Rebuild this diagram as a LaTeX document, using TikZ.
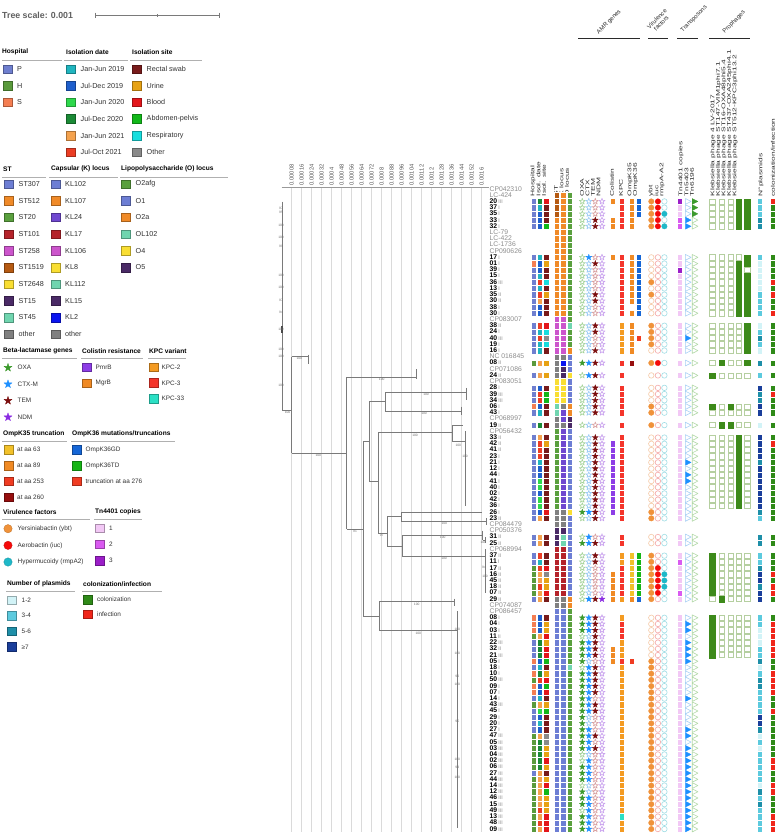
\documentclass[tikz,border=0pt]{standalone}
\usepackage{fontspec}
\setmainfont{Liberation Sans}
% hospital / date / site
\definecolor{hP}{HTML}{6F7FCF}\definecolor{hH}{HTML}{5A9A3C}\definecolor{hS}{HTML}{F47E52}
\definecolor{da}{HTML}{20B5BF}\definecolor{db}{HTML}{1F5FCC}\definecolor{dc}{HTML}{2ED84C}
\definecolor{dd}{HTML}{1B8A36}\definecolor{de}{HTML}{F4A24E}\definecolor{df}{HTML}{EB3D24}
\definecolor{sr}{HTML}{781B1B}\definecolor{su}{HTML}{E7A214}\definecolor{sb}{HTML}{E3161B}
\definecolor{sa}{HTML}{12B81A}\definecolor{ss}{HTML}{17DEDE}\definecolor{so}{HTML}{8A8A8A}
% ST / K / O
\definecolor{t1}{HTML}{6D7ED4}\definecolor{t2}{HTML}{F08A28}\definecolor{t3}{HTML}{5AA03E}
\definecolor{t4}{HTML}{B5232A}\definecolor{t5}{HTML}{CC55CC}\definecolor{t6}{HTML}{B55A12}
\definecolor{t7}{HTML}{F9DE33}\definecolor{t8}{HTML}{4A2A66}\definecolor{t9}{HTML}{70D5AF}
\definecolor{to}{HTML}{808080}
\definecolor{k1}{HTML}{6D7ED4}\definecolor{k2}{HTML}{F08A28}\definecolor{k3}{HTML}{7048D0}
\definecolor{k4}{HTML}{B5232A}\definecolor{k5}{HTML}{CC55CC}\definecolor{k6}{HTML}{F9DE33}
\definecolor{k7}{HTML}{70D5AF}\definecolor{k8}{HTML}{4A2A66}\definecolor{k9}{HTML}{0A14F0}
\definecolor{ko}{HTML}{808080}
\definecolor{o1}{HTML}{5AA03E}\definecolor{o2}{HTML}{6D7ED4}\definecolor{o3}{HTML}{F08A28}
\definecolor{o4}{HTML}{70D5AF}\definecolor{o5}{HTML}{F9DE33}\definecolor{o6}{HTML}{4A2A66}
% stars
\definecolor{sOXA}{HTML}{3C9A2C}\definecolor{sOXAL}{HTML}{A6D49A}
\definecolor{sCTX}{HTML}{1E90FF}\definecolor{sCTXL}{HTML}{9CCBF5}
\definecolor{sTEM}{HTML}{7B0E0E}\definecolor{sTEML}{HTML}{D9A0A0}
\definecolor{sNDM}{HTML}{8A2BE2}\definecolor{sNDML}{HTML}{C9A2EE}
% colistin, KPC, OmpK35, OmpK36
\definecolor{cp}{HTML}{8D3DE6}\definecolor{cm}{HTML}{F08A24}
\definecolor{q2}{HTML}{F49B22}\definecolor{q3}{HTML}{F4352B}\definecolor{qx}{HTML}{2BE0C5}
\definecolor{fa}{HTML}{F2C12A}\definecolor{fb}{HTML}{F08A24}\definecolor{fc}{HTML}{F03C22}\definecolor{fd}{HTML}{960E0E}
\definecolor{gg}{HTML}{1566D6}\definecolor{gt}{HTML}{16B516}\definecolor{gr}{HTML}{F03C22}
% virulence
\definecolor{vY}{HTML}{F0923A}\definecolor{vYL}{HTML}{F5C9A6}
\definecolor{vI}{HTML}{F50A0A}\definecolor{vIL}{HTML}{F5A8A8}
\definecolor{vR}{HTML}{1EB8C8}\definecolor{vRL}{HTML}{A0DDE5}
% transposons
\definecolor{n1}{HTML}{F2C8F5}\definecolor{n2}{HTML}{D95AF0}\definecolor{n3}{HTML}{9B1EC8}
\definecolor{tnA}{HTML}{1E90FF}\definecolor{tnAL}{HTML}{A8D0F5}
\definecolor{tnB}{HTML}{3C9A2C}\definecolor{tnBL}{HTML}{B3D9A8}
% phages, plasmids, col/inf
\definecolor{ph}{HTML}{3D8A1A}\definecolor{phL}{HTML}{B5CFA0}
\definecolor{p1}{HTML}{D2F3F7}\definecolor{p2}{HTML}{5CCADE}\definecolor{p3}{HTML}{1E8FA8}\definecolor{p4}{HTML}{1A3E9A}
\definecolor{ic}{HTML}{2F8A18}\definecolor{ii}{HTML}{F0261A}
% greys
\definecolor{labg}{HTML}{8C8C8C}\definecolor{legg}{HTML}{333333}\definecolor{hdrg}{HTML}{2A2A2A}
\definecolor{sclg}{HTML}{555555}\definecolor{ulg}{HTML}{B0B0B0}\definecolor{treeg}{HTML}{7A7A7A}
\definecolor{bsg}{HTML}{707070}\definecolor{gridg}{HTML}{DADADA}\definecolor{titg}{HTML}{606060}

\newcount\myrc
\def\drawcol#1#2#3#4{\def\mycx{#1}\def\myckind{#2}\def\mycpre{#3}\myrc=0\relax\mycolloop#4\relax}
\def\mycolloop#1{\ifx\relax#1\let\mynxt\relax\else\def\mycc{#1}\let\mynxt\mycolstep\fi\mynxt}
\def\mycolstep{\advance\myrc by 1\relax
  \if.\mycc\else
    \pgfmathsetmacro\mycy{189+(\the\myrc-1)*6.214}%
    \csname mycell@\myckind\endcsname
  \fi\mycolloop}
\def\mycw{2.7}
\expandafter\def\csname mycell@strip\endcsname{\edef\myccol{\mycpre\mycc}%
  \fill[fill=\myccol,draw=white,line width=0.35] (\mycx-\mycw,\mycy-3.107) rectangle (\mycx+\mycw,\mycy+3.107);}
\def\mysetbin{\if1\mycc\edef\myfcol{\mycpre}\edef\mydcol{\mycpre}\def\mylw{0.3}\else
  \def\myfcol{white}\edef\mydcol{\mycpre L}\def\mylw{0.6}\fi}
\expandafter\def\csname mycell@star\endcsname{\mysetbin
  \filldraw[fill=\myfcol,draw=\mydcol,line width=\mylw,line join=round,shift={(\mycx,\mycy)}]
   (0,-3.2)--(-.72,-1.0)--(-3.04,-.99)--(-1.17,.38)--(-1.88,2.59)--(0,1.23)--(1.88,2.59)--(1.17,.38)--(3.04,-.99)--(.72,-1.0)--cycle;}
\expandafter\def\csname mycell@circ\endcsname{\mysetbin
  \filldraw[fill=\myfcol,draw=\mydcol,line width=\mylw] (\mycx,\mycy) circle[radius=2.75];}
\expandafter\def\csname mycell@tri\endcsname{\mysetbin
  \filldraw[fill=\myfcol,draw=\mydcol,line width=\mylw,line join=round] (\mycx-2.6,\mycy-2.9) -- (\mycx+3.1,\mycy) -- (\mycx-2.6,\mycy+2.9) -- cycle;}
\expandafter\def\csname mycell@phg\endcsname{\mysetbin
  \filldraw[fill=\myfcol,draw=\mydcol,line width=\mylw] (\mycx-2.8,\mycy-2.6) rectangle (\mycx+2.8,\mycy+2.6);}
\def\legsq#1#2#3{\filldraw[fill=#3,draw=#3!70!black,line width=0.4] (#1-4.3,#2-4.3) rectangle (#1+4.3,#2+4.3);}
\def\legstar#1#2#3{\filldraw[fill=#3,draw=#3,line width=0.3,line join=round,shift={(#1,#2)},scale=1.35]
   (0,-3.2)--(-.72,-1.0)--(-3.04,-.99)--(-1.17,.38)--(-1.88,2.59)--(0,1.23)--(1.88,2.59)--(1.17,.38)--(3.04,-.99)--(.72,-1.0)--cycle;}
\def\tmpr{r}
\def\hd#1{\scalebox{1.2}[0.76]{#1}}

\begin{document}
\begin{tikzpicture}[x=1pt,y=-1pt,
  tree/.style={draw=treeg,line width=0.55},
  bs/.style={font=\fontsize{3.3}{3.5}\selectfont,text=bsg,inner sep=0},
  reflab/.style={anchor=west,inner sep=0,font=\fontsize{6.8}{7}\selectfont,text=labg,text height=4.6,text depth=0.6},
  isolab/.style={anchor=west,inner sep=0,font=\fontsize{6.8}{7}\selectfont,text=black,text height=4.6,text depth=0.6},
  hdr/.style={rotate=90,anchor=west,inner sep=0,font=\fontsize{7}{7}\selectfont,text=hdrg},
  sclab/.style={rotate=90,anchor=west,inner sep=0,font=\fontsize{5.8}{6}\selectfont,text=sclg},
  ltitle/.style={anchor=west,inner sep=0,font=\bfseries\fontsize{6.6}{7}\selectfont,text=black},
  ltext/.style={anchor=west,inner sep=0,font=\fontsize{7.2}{8}\selectfont,text=legg},
  ltexts/.style={anchor=west,inner sep=0,font=\fontsize{6.4}{7}\selectfont,text=legg},
  uline/.style={draw=ulg,line width=0.8},
  grphdr/.style={rotate=45,inner sep=0,font=\fontsize{6}{6.2}\selectfont,text=hdrg,align=center},
  grpline/.style={draw=hdrg,line width=1}
]
\useasboundingbox (0,0) rectangle (777,835);
\fill[white] (0,0) rectangle (777,835);

% ---------------- tree scale ----------------
\node[anchor=west,inner sep=0,font=\bfseries\fontsize{8.8}{9}\selectfont,text=titg] (tscale) at (2,15) {Tree scale: 0.001};
\draw[draw=treeg,line width=0.8] (95,15) -- (219,15);
\draw[draw=treeg,line width=0.8] (95,12.5) -- (95,17.5);
\draw[draw=treeg,line width=0.8] (219,12.5) -- (219,17.5);
\draw[draw=treeg,line width=0.6] (157,14) -- (157,16.5);

% ---------------- legends ----------------
\node[ltitle] (tH) at (2,52) {Hospital};
\node[ltitle] (tD) at (66,52) {Isolation date};
\node[ltitle] (tS) at (132,52) {Isolation site};
\draw[uline] (2,60) -- (62,60); \draw[uline] (64,60) -- (128,60); \draw[uline] (130,60) -- (202,60);
\foreach \t/\c [count=\i] in {P/hP,H/hH,S/hS}{
  \pgfmathsetmacro\yy{69+(\i-1)*16.65}\legsq{7.5}{\yy}{\c}\node[ltext] (lH\i) at (17,\yy) {\t};}
\foreach \t/\c [count=\i] in {Jan-Jun 2019/da,Jul-Dec 2019/db,Jan-Jun 2020/dc,Jul-Dec 2020/dd,Jan-Jun 2021/de,Jul-Oct 2021/df}{
  \pgfmathsetmacro\yy{69+(\i-1)*16.65}\legsq{70.5}{\yy}{\c}\node[ltext] (lD\i) at (80.5,\yy) {\t};}
\foreach \t/\c [count=\i] in {Rectal swab/sr,Urine/su,Blood/sb,Abdomen-pelvis/sa,Respiratory/ss,Other/so}{
  \pgfmathsetmacro\yy{69+(\i-1)*16.65}\legsq{136.5}{\yy}{\c}\node[ltext] (lS\i) at (146.5,\yy) {\t};}

\node[ltitle] (tST) at (3,169) {ST};
\node[ltitle] (tK) at (51,169) {Capsular (K) locus};
\node[ltitle] (tO) at (121,169) {Lipopolysaccharide (O) locus};
\draw[uline] (2,177) -- (46,177); \draw[uline] (49,177) -- (118,177); \draw[uline] (120,177) -- (228,177);
\foreach \t/\c [count=\i] in {ST307/t1,ST512/t2,ST20/t3,ST101/t4,ST258/t5,ST1519/t6,ST2648/t7,ST15/t8,ST45/t9,other/to}{
  \pgfmathsetmacro\yy{184+(\i-1)*16.68}\legsq{8.5}{\yy}{\c}\node[ltext] (lST\i) at (18.5,\yy) {\t};}
\foreach \t/\c [count=\i] in {KL102/k1,KL107/k2,KL24/k3,KL17/k4,KL106/k5,KL8/k6,KL112/k7,KL15/k8,KL2/k9,other/ko}{
  \pgfmathsetmacro\yy{184+(\i-1)*16.68}\legsq{55.5}{\yy}{\c}\node[ltext] (lK\i) at (65,\yy) {\t};}
\foreach \t/\c [count=\i] in {O2afg/o1,O1/o2,O2a/o3,OL102/o4,O4/o5,O5/o6}{
  \pgfmathsetmacro\yy{184+(\i-1)*16.68}\legsq{125.5}{\yy}{\c}\node[ltext] (lO\i) at (135.5,\yy) {\t};}

\node[ltitle] (tB) at (3,351) {Beta-lactamase genes};
\node[ltitle] (tC) at (82,351) {Colistin resistance};
\node[ltitle] (tQ) at (149,351) {KPC variant};
\draw[uline] (2,358) -- (77,358); \draw[uline] (81,358) -- (143,358); \draw[uline] (148,358) -- (186,358);
\foreach \t/\c [count=\i] in {OXA/sOXA,CTX-M/sCTX,TEM/sTEM,NDM/sNDM}{
  \pgfmathsetmacro\yy{367.7+(\i-1)*16.5}\legstar{8}{\yy}{\c}\node[ltexts] (lB\i) at (17.5,\yy) {\t};}
\foreach \t/\c [count=\i] in {PmrB/cp,MgrB/cm}{
  \pgfmathsetmacro\yy{367+(\i-1)*16.2}\legsq{86.5}{\yy}{\c}\node[ltexts] (lC\i) at (95.5,\yy) {\t};}
\foreach \t/\c [count=\i] in {KPC-2/q2,KPC-3/q3,KPC-33/qx}{
  \pgfmathsetmacro\yy{367+(\i-1)*15.8}\legsq{153.5}{\yy}{\c}\node[ltexts] (lQ\i) at (161.5,\yy) {\t};}

\node[ltitle] (t35) at (3,434) {OmpK35 truncation};
\node[ltitle] (t36) at (72,434) {OmpK36 mutations/truncations};
\draw[uline] (2,441) -- (67,441); \draw[uline] (71,441) -- (175,441);
\foreach \t/\c [count=\i] in {at aa 63/fa,at aa 89/fb,at aa 253/fc,at aa 260/fd}{
  \pgfmathsetmacro\yy{449.7+(\i-1)*15.8}\legsq{8.5}{\yy}{\c}\node[ltexts] (l35\i) at (17,\yy) {\t};}
\foreach \t/\c [count=\i] in {OmpK36GD/gg,OmpK36TD/gt,truncation at aa 276/gr}{
  \pgfmathsetmacro\yy{449.7+(\i-1)*15.8}\legsq{76.5}{\yy}{\c}\node[ltexts] (l36\i) at (85.5,\yy) {\t};}

\node[ltitle] (tV) at (3,512) {Virulence factors};
\node[ltitle] (tT) at (95,512) {Tn4401 copies};
\draw[uline] (2,519) -- (90,519); \draw[uline] (94,519) -- (142,519);
\foreach \t/\c [count=\i] in {Yersiniabactin (ybt)/vY,Aerobactin (iuc)/vI,Hypermucoidy (rmpA2)/vR}{
  \pgfmathsetmacro\yy{528.7+(\i-1)*16.65}
  \filldraw[fill=\c,draw=\c!80!black,line width=0.3] (8,\yy) circle[radius=4.2];
  \node[ltexts] (lV\i) at (17.5,\yy) {\t};}
\foreach \t/\c [count=\i] in {1/n1,2/n2,3/n3}{
  \pgfmathsetmacro\yy{528+(\i-1)*16.35}\legsq{99.5}{\yy}{\c}\node[ltexts] (lT\i) at (109,\yy) {\t};}

\node[ltitle] (tN) at (7,584) {Number of plasmids};
\node[ltitle] (tI) at (83,584) {colonization/infection};
\draw[uline] (6,591) -- (75,591); \draw[uline] (82,591) -- (162,591);
\foreach \t/\c [count=\i] in {1-2/p1,3-4/p2,5-6/p3,≥7/p4}{
  \pgfmathsetmacro\yy{600+(\i-1)*15.6}\legsq{11.5}{\yy}{\c}\node[ltexts] (lN\i) at (21.5,\yy) {\t};}
\foreach \t/\c [count=\i] in {colonization/ic,infection/ii}{
  \pgfmathsetmacro\yy{599.7+(\i-1)*14.6}\legsq{87.5}{\yy}{\c}\node[ltexts] (lI\i) at (97,\yy) {\t};}

% ---------------- tree grid ----------------
\foreach \k in {1,...,20}{\draw[draw=gridg,line width=0.5] (281.7+10*\k,187) -- (281.7+10*\k,832);}
\draw[draw=gridg!70!black,line width=0.5] (281.7,187) -- (489,187);
\foreach \k/\t in {1/0.00008,2/0.00016,3/0.00024,4/0.00032,5/0.0004,6/0.00048,7/0.00056,8/0.00064,9/0.00072,10/0.0008,11/0.00088,12/0.00096,13/0.00104,14/0.00112,15/0.0012,16/0.00128,17/0.00136,18/0.00144,19/0.00152,20/0.0016}{
  \node[sclab] (sc\k) at (281.7+10*\k,185.5) {\t};}

% ---------------- tree ----------------
\draw[tree] (282,201.7) -- (282,410);
\draw[treeg!60!black,line width=1.1] (282,326) -- (282,333);
\draw[tree] (282,410) -- (291.7,410);
\draw[tree] (291.7,356.7) -- (291.7,453.3);
\draw[tree] (291.7,356.7) -- (308.3,356.7);
\draw[tree] (308.3,354.5) -- (308.3,364);
\draw[tree] (291.7,453.3) -- (346.7,453.3);
\draw[tree] (346.7,377) -- (346.7,529.3);
\draw[tree] (346.7,377) -- (416.7,377);
\draw[tree] (416.7,369.2) -- (416.7,379);
\draw[tree] (346.7,529.3) -- (363.3,529.3);
\draw[tree] (363.3,441.7) -- (363.3,616.7);
\draw[tree] (363.3,441.7) -- (369.3,441.7);
\draw[tree] (369.3,401.7) -- (369.3,481.7);
\draw[tree] (369.3,401.7) -- (385,401.7);
\draw[tree] (385,392.7) -- (385,411.7);
\draw[tree] (385,392.7) -- (466.7,392.7);
\draw[tree] (466.7,387.8) -- (466.7,400.2);
\draw[tree] (385,411.7) -- (461.7,411.7);
\draw[tree] (461.7,406.5) -- (461.7,415);
\draw[tree] (369.3,481.7) -- (378.3,481.7);
\draw[tree] (378.3,432.7) -- (378.3,533.3);
\draw[tree] (378.3,432.7) -- (452.7,432.7);
\draw[tree] (452.7,425.1) -- (452.7,441.7);
\draw[tree] (452.7,425.1) -- (463.3,425.1);
\draw[tree] (452.7,441.7) -- (465.5,441.7);
\draw[tree] (465.5,431.3) -- (465.5,506);
\draw[tree] (378.3,533.3) -- (387.3,533.3);
\draw[tree] (387.3,516) -- (387.3,546.7);
\draw[tree] (387.3,516) -- (401.7,516);
\draw[tree] (401.7,512.1) -- (401.7,521.7);
\draw[tree] (401.7,512.1) -- (481.7,512.1);
\draw[tree] (401.7,521.7) -- (486,521.7);
\draw[tree] (486,518.3) -- (486,524.5);
\draw[tree] (387.3,546.7) -- (402.7,546.7);
\draw[tree] (402.7,535) -- (402.7,556.7);
\draw[tree] (402.7,535) -- (482.7,535);
\draw[tree] (482.7,530.7) -- (482.7,540);
\draw[tree] (482.7,540) -- (485,540);
\draw[tree] (485,536.9) -- (485,543.1);
\draw[tree] (402.7,556.7) -- (485,556.7);
\draw[tree] (485,549.4) -- (485,592.9);
\draw[tree] (363.3,616.7) -- (379.3,616.7);
\draw[tree] (379.3,601.7) -- (379.3,630.7);
\draw[tree] (379.3,601.7) -- (454,601.7);
\draw[tree] (454,598.5) -- (454,606);
\draw[tree] (379.3,630.7) -- (457,630.7);
\draw[tree] (457,611) -- (457,828);
\foreach \yy/\t [count=\i] in {208.3/97,212.7/95,225/100,237.7/100,246.3/99,275/100,287.3/100,300/97,312.3/94,329.3/100,349.3/100,356.7/100,385/100}{
  \node[bs] (bt\i) at (281,\yy) {\t};}
\foreach \xx/\yy/\t [count=\i] in {287.5/412/100,299.3/358.8/100,318.3/455.6/100,381.7/379.3/100,355/531.3/91,426/394.8/100,424/413.8/100,415/435/100,458.3/445/100,465/456.7/100,381.7/535.3/97,444.3/523.8/100,442.7/537.2/100,483.3/542.3/100,444/558.8/100,484/567.3/94,485/576/100,416.7/604/100,418.3/632.9/100,457.3/629/100,457.3/653.3/100,457.3/676/90,457.3/684.3/100,457.3/721.7/95,457.3/759.3/100,457.3/767.7/99,457.3/777.3/100}{
  \node[bs] (bn\i) at (\xx,\yy) {\t};}

% ---------------- leaf labels ----------------
\foreach \a/\b [count=\r] in {CP042310/r,LC-424/r,20/III,37/I,35/I,33/I,32/I,LC-79/r,LC-422/r,LC-1736/r,CP090626/r,17/I,01/I,39/I,15/I,36/III,13/I,35/II,30/II,38/I,30/I,CP083007/r,38/II,24/I,40/III,19/I,16/I,NC 016845/r,08/II,CP071086/r,24/II,CP083051/r,28/I,39/III,34/III,06/I,43/I,CP068997/r,19/II,CP056432/r,33/II,42/II,41/II,23/I,21/I,12/I,44/I,41/I,40/I,02/I,42/I,36/I,26/I,23/II,CP084479/r,CP050376/r,31/II,25/II,CP068994/r,37/II,11/I,17/II,16/II,45/II,18/II,07/II,29/II,CP074087/r,CP086457/r,08/I,04/I,03/I,11/II,22/III,32/II,21/III,05/I,18/I,10/I,50/III,09/I,07/I,14/I,43/III,45/I,29/I,20/I,27/I,47/III,05/III,03/III,04/III,02/III,06/III,27/III,44/III,14/III,12/III,46/III,15/III,49/III,13/III,48/III,09/III}{
  \pgfmathsetmacro\ly{189+(\r-1)*6.214}
  \edef\bb{\b}
  \ifx\bb\tmpr
    \node[reflab] (L\r) at (489.5,\ly) {\a};
  \else
    \node[isolab] (L\r) at (489.5,\ly) {\textbf{\a}\,{\color{labg}\fontsize{5.2}{5}\selectfont\b}};
  \fi}

% ---------------- column headers ----------------
\node[hdr] (h1) at (533,196.5) {\hd{Hospital}};
\node[hdr] (h2) at (538.5,196.5) {\hd{Isol. date}};
\node[hdr] (h3) at (544,196.5) {\hd{Isol. site}};
\node[hdr] (h4) at (556,196.5) {\hd{ST}};
\node[hdr] (h5) at (561.5,196.5) {\hd{K locus}};
\node[hdr] (h6) at (567,196.5) {\hd{O locus}};
\node[hdr] (h7) at (582,196.5) {\hd{OXA}};
\node[hdr] (h8) at (587.5,196.5) {\hd{CTX}};
\node[hdr] (h9) at (593,196.5) {\hd{TEM}};
\node[hdr] (h10) at (598.5,196.5) {\hd{NDM}};
\node[hdr] (h11) at (612,196.5) {\hd{Colistin}};
\node[hdr] (h12) at (621,196.5) {\hd{KPC}};
\node[hdr] (h13) at (630,196.5) {\hd{OmpK35}};
\node[hdr] (h14) at (635.5,196.5) {\hd{OmpK36}};
\node[hdr] (h15) at (651,196.5) {\hd{ybt}};
\node[hdr] (h16) at (656.5,196.5) {\hd{iuc}};
\node[hdr] (h17) at (662,196.5) {\hd{rmpA-A2}};
\node[hdr] (h18) at (681,196.5) {\hd{Tn4401 copies}};
\node[hdr] (h19) at (686.5,196.5) {\hd{Tn5403}};
\node[hdr] (h20) at (692,196.5) {\hd{Tn6196}};
\node[hdr] (h21) at (713,196.5) {\hd{Klebsiella phage 4 LV-2017}};
\node[hdr] (h22) at (718.5,196.5) {\hd{Klebsiella phage ST147-VIM1phi7.1}};
\node[hdr] (h23) at (724,196.5) {\hd{Klebsiella phage ST16-OXA48phi5.4}};
\node[hdr] (h24) at (729.5,196.5) {\hd{Klebsiella phage ST437-OXA245phi4.1}};
\node[hdr] (h25) at (735,196.5) {\hd{Klebsiella phage ST512-KPC3phi13.2}};
\node[hdr] (h26) at (761,196.5) {\hd{N°plasmids}};
\node[hdr] (h27) at (773,196.5) {\hd{colonization/infection}};

\node[grphdr] (gA) at (609,22) {AMR genes};
\node[grphdr] (gV) at (659,21) {Virulence\\factors};
\node[grphdr] (gT) at (694,19) {Transposons};
\node[grphdr] (gP) at (734,22) {Prophages};
\draw[grpline] (578,38) -- (640,38);
\draw[grpline] (648,38) -- (668,38);
\draw[grpline] (677,38) -- (698,38);
\draw[grpline] (709,38) -- (750,38);

% ---------------- data columns ----------------
\def\mycw{2.7}
\drawcol{533.5}{strip}{h}{.. PPPPP .... PSPPPPPPPP . PPPPP . H . P . PPPSP . P . PPPPPPPPPPPPPP .. PP . PPHHHHHP .. SSSHP PPSPS HSSPH PPPPH HHHHH PHHHH HHHHH}
\drawcol{539.8}{strip}{d}{.. dabbb .... abbafafebb . fafaa . e . e . bffba . d . efffabbccbccbe .. ee . fafeefee .. bbbed ddbad fbbae cbabe ddddd eeeee efefe}
\drawcol{546.3}{strip}{s}{.. brrra .... rurrsrurrr . bsosr . u . u . raarr . r . rurrrrrrrrrrbr .. rr . rrbouubr .. ruubu bbaru babru arrro ouubu rubau uubbb}
\drawcol{556.8}{strip}{t}{.6 66622 2222 2222222222 5 55555 o o o o 7 77799 o o 3 333333333333oo o8 88 4 4444444o o1 11111 11111 11111 11111 11111 11111 11111}
\drawcol{563.3}{strip}{k}{.2 22222 2222 2222222222 5 55555 o 9 8 8 6 666o3 3 o 3 333333333333oo o8 77 4 4444444o o1 11111 11111 11111 11111 11111 11111 11111}
\drawcol{569.8}{strip}{o}{.1 11111 1111 1111111111 1 41113 2 2 2 5 2 22233 6 6 2 22222222222252 22 22 2 22222223 31 11111 11141 11111 11111 11111 11111 11111}

\drawcol{582.3}{star}{sOXA}{.. 00000 .... 0000000000 . 00000 . 1 . 0 . 00000 . 0 . 00000000000010 .. 01 . 00000000 .. 11101 11101 11111 11111 11001 11011 10111}
\drawcol{588.8}{star}{sCTX}{.. 00000 .... 1000000000 . 00000 . 1 . 1 . 00000 . 0 . 00000000000010 .. 11 . 00000001 .. 11101 11011 11111 10011 11011 11001 11111}
\drawcol{595.3}{star}{sTEM}{.. 00011 .... 0100001100 . 11001 . 1 . 1 . 11111 . 0 . 11111111111111 .. 01 . 11000001 .. 11111 11011 11101 10001 01000 00000 00000}
\drawcol{602.0}{star}{sNDM}{.. 00000 .... 0000000000 . 00000 . 0 . 0 . 00000 . 0 . 00000000000000 .. 00 . 00000001 .. 00000 00000 00000 00000 00000 00000 00000}

\def\mycw{2.5}
\drawcol{612.3}{strip}{c}{.. m..mm .... m......... . ..... . . . . . . ..... . . . pppppppppppp.. .. .. . ..mmmmm. .. ....mmm}
\drawcol{622.0}{strip}{q}{.. 33333 .... 3333333333 . 22222 . 3 . 3 . 33333 . 3 . 33333333333333 .. 33 . 22333332 .. 23332 22322 22222 22222 22222 22222 22x22}
\drawcol{631.7}{strip}{f}{.. bbbbb .... bbbbbbbb.b . bbbbb . d . . . ..... . . . .............. .. .. . aaaaaaab .. .......c}
\drawcol{638.7}{strip}{g}{.. ggg.. .... gggggggggg . ..r.. . . . . . ..... . . . .............. .. .. . tttttttg}

\drawcol{651.3}{circ}{vY}{.. 11111 .... 0000101000 . 11110 . 1 . 0 . 00011 . 1 . 00000000000011 .. 00 . 11111111 .. 00000 00111 11111 11111 11111 11111 11111}
\drawcol{657.9}{circ}{vI}{.. 11111 .... 0000000000 . 00000 . 1 . 0 . 00000 . 0 . 00000000000000 .. 00 . 00111110 .. 00000 00000 00000 00000 00000 00000 00000}
\drawcol{664.4}{circ}{vR}{.. 00101 .... 0000000000 . 00000 . 0 . 0 . 00000 . 0 . 00000000000000 .. 00 . 00011100 .. 00000 00000 00000 00000 00000 00000 00000}

\def\mycw{2.4}
\drawcol{680.0}{strip}{n}{.. 31122 .... 1131111111 . 11111 . 1 . 1 . 11111 . 1 . 11111111111111 .. 11 . 12111121 .. 11111 11111 11111 11111 11111 11111 11111}
\drawcol{688.0}{tri}{tnA}{.. 00011 .... 0000000000 . 00100 . 0 . 0 . 00000 . 0 . 00001011000000 .. 00 . 00000000 .. 01101 11100 00010 00011 01111 11111 11111}
\drawcol{694.8}{tri}{tnB}{.. 11100 .... 0000000000 . 00000 . 0 . 0 . 00000 . 0 . 00000000000000 .. 00 . 00000000 .. 00000 00000 00000 00000 00000 00000 00000}

\drawcol{712.3}{phg}{ph}{.. 00000 .... 0000000000 . 00000 . 0 . 1 . ...10 . 0 . 000000000000.. .. .. . 11111110 .. 1111111}
\drawcol{721.6}{phg}{ph}{.. 00000 .... 0000000000 . 00000 . 1 . 0 . ...00 . 1 . 000000000000.. .. .. . 00000001 .. 0000000}
\drawcol{730.6}{phg}{ph}{.. 00000 .... 0000000000 . 00000 . 0 . 0 . ...10 . 1 . 000000000000.. .. .. . 00000000 .. 0000000}
\drawcol{738.8}{phg}{ph}{.. 11111 .... 0111111111 . 00000 . 0 . 0 . ...00 . 0 . 111111111111.. .. .. . 00000000 .. 0000000}
\drawcol{747.3}{phg}{ph}{.. 11111 .... 1101111111 . 11111 . 1 . 0 . ...00 . 0 . 000000000000.. .. .. . 00000000 .. 0000000}

\def\mycw{2.5}
\drawcol{760.0}{strip}{p}{.. 22233 .... 2111112222 . 12321 . 3 . 2 . 43344 . 1 . 44443444444432 .. 33 . 22344344 .. 22111 22312 33222 24431 21222 22132 32222}
\drawcol{772.3}{strip}{i}{.. icccc .... ccccicicci . ccccc . c . c . ciccc . c . cicccccccccccc .. cc . ccciciic .. ciiii iicci iiicc icccc cccii cciic cciii}
\end{tikzpicture}
\end{document}
